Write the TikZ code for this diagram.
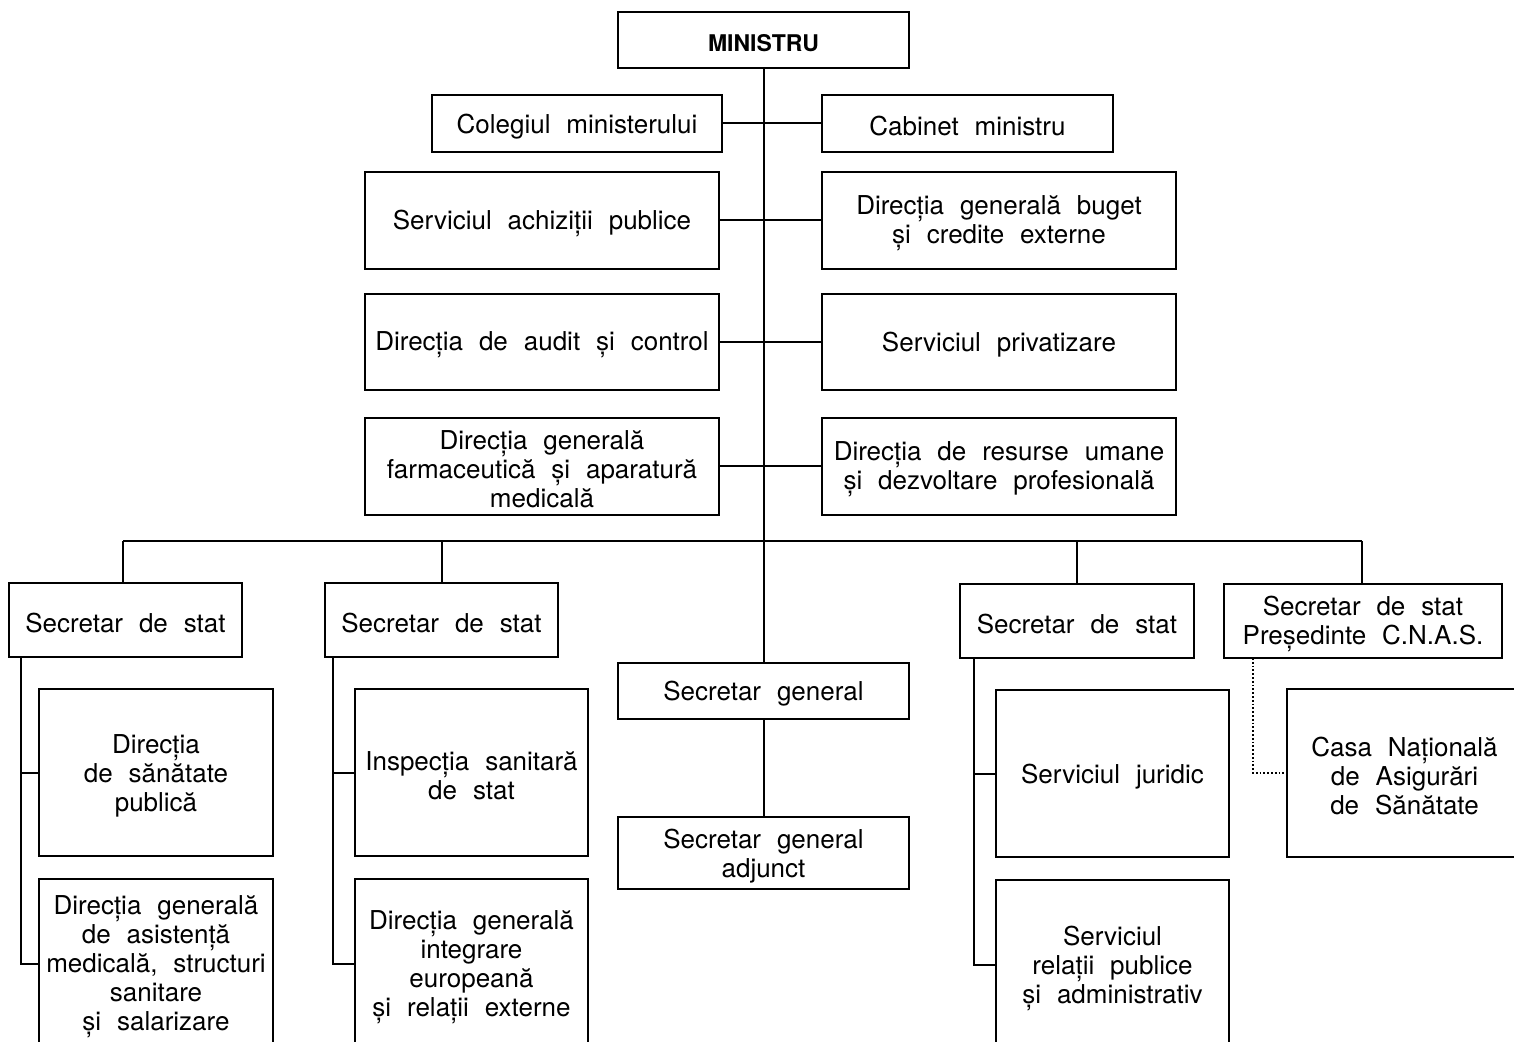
\documentclass[tikz,border=0pt]{standalone}
\usepackage{fontspec}
\setmainfont{TeX Gyre Heros}[WordSpace=2.2]
\begin{document}
\begin{tikzpicture}[x=0.5pt,y=-0.5pt,
  box/.style={draw, line width=1pt, inner sep=0pt},
  boxtext/.style={align=center, inner sep=0pt, yshift=-1.5pt,
    font={\fontsize{13}{14.5}\selectfont}},
  conn/.style={line width=1pt},
  dotconn/.style={line width=0.9pt, densely dotted}]
\clip (0,0) rectangle (1514,1042);
\fill[white] (0,0) rectangle (1514,1042);
\newcommand\bx[6]{\node[box, minimum width={(#4-#2)*0.5pt}, minimum height={(#5-#3)*0.5pt}] (#1) at ({(#2+#4)/2},{(#3+#5)/2}) {};
  \node[boxtext] (#1-t) at (#1.center) {#6};}
% top
\bx{min}{618}{12}{909}{68}{\fontsize{11.5}{13}\selectfont\bfseries MINISTRU}
\bx{col}{432}{95}{722}{152}{Colegiul ministerului}
\bx{cab}{822}{95}{1113}{152}{Cabinet ministru}
\bx{ach}{365}{172}{719}{269}{Serviciul achiziții publice}
\bx{bug}{822}{172}{1176}{269}{Direcția generală buget\\și credite externe}
\bx{aud}{365}{294}{719}{390}{Direcția de audit și control}
\bx{pri}{822}{294}{1176}{390}{Serviciul privatizare}
\bx{far}{365}{418}{719}{515}{Direcția generală\\farmaceutică și aparatură\\medicală}
\bx{res}{822}{418}{1176}{515}{Direcția de resurse umane\\și dezvoltare profesională}
% secretaries
\bx{ssa}{9}{583}{242}{657}{Secretar de stat}
\bx{ssb}{325}{583}{558}{657}{Secretar de stat}
\bx{sg}{618}{663}{909}{719}{Secretar general}
\bx{sga}{618}{817}{909}{889}{Secretar general\\adjunct}
\bx{ssc}{960}{584}{1194}{658}{Secretar de stat}
\bx{ssd}{1224}{584}{1502}{658}{Secretar de stat\\Președinte C.N.A.S.}
% lower boxes
\bx{dsp}{39}{689}{273}{856}{Direcția\\de sănătate\\publică}
\bx{das}{39}{879}{273}{1049}{Direcția generală\\de asistență\\medicală, structuri\\sanitare\\și salarizare}
\bx{ins}{355}{689}{588}{856}{Inspecția sanitară\\de stat}
\bx{die}{355}{879}{588}{1049}{Direcția generală\\integrare\\europeană\\și relații externe}
\bx{jur}{996}{690}{1229}{857}{Serviciul juridic}
\bx{rel}{996}{880}{1229}{1050}{Serviciul\\relații publice\\și administrativ}
\bx{cas}{1287}{689}{1522}{857}{Casa Națională\\de Asigurări\\de Sănătate}
% connectors
\draw[conn] (min.south) -- (sg.north);
\draw[conn] (sg.south) -- (sga.north);
\draw[conn] (col.east) -- (cab.west);
\draw[conn] (ach.east) -- (bug.west);
\draw[conn] (aud.east) -- (pri.west);
\draw[conn] (far.east) -- (res.west);
\coordinate (busL) at (123,541);
\coordinate (busR) at (1362,541);
\draw[conn] (busL) -- (busR);
\draw[conn] (busL) -- (busL |- ssa.north);
\draw[conn] (ssb.north |- busL) -- (ssb.north);
\draw[conn] (ssc.north |- busL) -- (ssc.north);
\draw[conn] (busR) -- (busR |- ssd.north);
\coordinate (ta) at (21,657);
\coordinate (tb) at (333,657);
\coordinate (tc) at (974,658);
\coordinate (td) at (1253,658);
\draw[conn] (ta) |- (dsp.west);
\draw[conn] (ta) |- (das.west);
\draw[conn] (tb) |- (ins.west);
\draw[conn] (tb) |- (die.west);
\draw[conn] (tc) |- (jur.west);
\draw[conn] (tc) |- (rel.west);
\draw[dotconn] (td) |- (cas.west);
\end{tikzpicture}
\end{document}
